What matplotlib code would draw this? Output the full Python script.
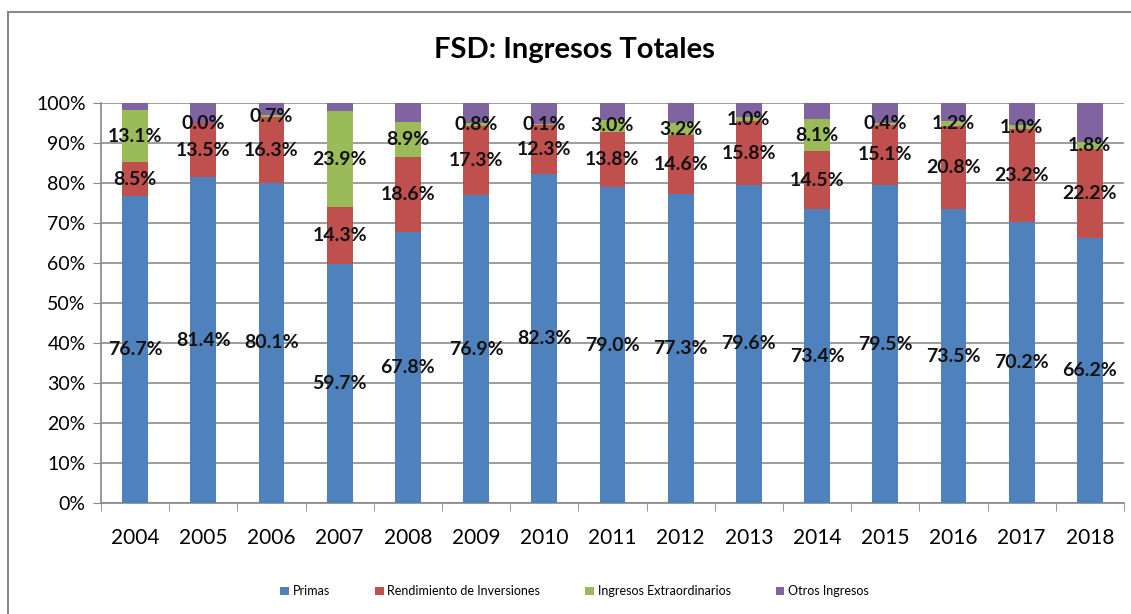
import numpy as np
import matplotlib
matplotlib.use("Agg")
import matplotlib.pyplot as plt
from matplotlib.ticker import PercentFormatter

# Datos (porcentajes de ingresos totales)
anios = ["2004", "2005", "2006", "2007", "2008", "2009", "2010", "2011",
         "2012", "2013", "2014", "2015", "2016", "2017", "2018"]
primas = [76.7, 81.4, 80.1, 59.7, 67.8, 76.9, 82.3, 79.0, 77.3, 79.6, 73.4, 79.5, 73.5, 70.2, 66.2]
rendimiento = [8.5, 13.5, 16.3, 14.3, 18.6, 17.3, 12.3, 13.8, 14.6, 15.8, 14.5, 15.1, 20.8, 23.2, 22.2]
extraordinarios = [13.1, 0.0, 0.7, 23.9, 8.9, 0.8, 0.1, 3.0, 3.2, 1.0, 8.1, 0.4, 1.2, 1.0, 1.8]
otros = [1.7, 5.1, 2.9, 2.1, 4.7, 5.0, 5.3, 4.2, 4.9, 3.6, 4.0, 5.0, 4.5, 5.6, 9.8]

series = [
    ("Primas", primas, "#4F81BD", True),
    ("Rendimiento de Inversiones", rendimiento, "#C0504D", True),
    ("Ingresos Extraordinarios", extraordinarios, "#9BBB59", True),
    ("Otros Ingresos", otros, "#8064A2", False),
]

plt.rcParams["font.family"] = ["Lato", "DejaVu Sans"]

fig = plt.figure(figsize=(11.31, 6.14), dpi=100)
ax = fig.add_axes([0.0893, 0.1808, 0.9045, 0.6514])

x = np.arange(len(anios))
base = np.zeros(len(anios))
for nombre, vals, color, etiquetar in series:
    vals = np.array(vals)
    ax.bar(x, vals, width=0.38, bottom=base, color=color, label=nombre, zorder=3)
    if etiquetar:
        for xi, b, v in zip(x, base, vals):
            ax.text(xi, b + v / 2, f"{v:.1f}%", ha="center", va="center",
                    fontsize=14, fontweight="bold", color="#111111", zorder=4)
    base += vals

ax.set_xlim(-0.5, len(anios) - 0.5)
ax.set_ylim(0, 100)
ax.set_yticks(np.arange(0, 101, 10))
ax.yaxis.set_major_formatter(PercentFormatter(decimals=0))
ax.set_xticks(x)
ax.set_xticklabels(anios)
ax.set_xticks(np.arange(-0.5, len(anios), 1), minor=True)
ax.tick_params(axis="x", which="major", length=0, pad=18, labelsize=15)
ax.tick_params(axis="x", which="minor", length=6, color="#888888", direction="out")
ax.tick_params(axis="y", length=6, color="#888888", labelsize=14, pad=5)
ax.grid(axis="y", color="#8c8c8c", linewidth=1.2, zorder=0)

for lado in ["top", "right"]:
    ax.spines[lado].set_visible(False)
for lado in ["left", "bottom"]:
    ax.spines[lado].set_color("#888888")
    ax.spines[lado].set_linewidth(1.2)

fig.text(0.508, 0.918, "FSD: Ingresos Totales", ha="center", va="center",
         fontsize=21, fontweight="bold")

fig.legend(loc="center", bbox_to_anchor=(0.508, 0.037), ncol=4, frameon=False,
           fontsize=9, handlelength=0.7, handleheight=0.7, handletextpad=0.3,
           columnspacing=3.6)

# Borde del área del gráfico (arriba e izquierda)
fig.add_artist(plt.Line2D([0.0075, 1.0], [0.980, 0.980], color="#8a8a8a", linewidth=1.5))
fig.add_artist(plt.Line2D([0.0075, 0.0075], [0.0, 0.980], color="#8a8a8a", linewidth=1.5))

fig.savefig("out.png", dpi=100)
